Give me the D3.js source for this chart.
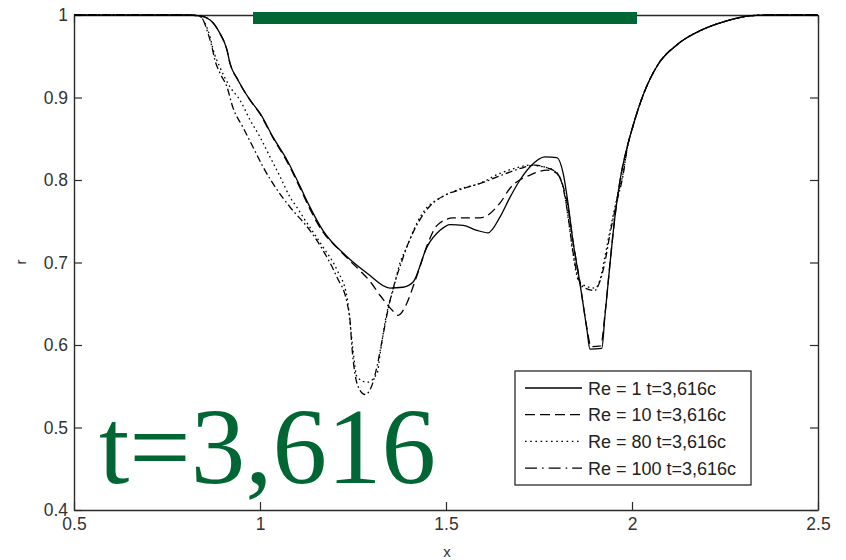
<!DOCTYPE html>
<html>
<head>
<meta charset="utf-8">
<script src="https://cdn.jsdelivr.net/npm/d3@7"></script>
<style>
  html, body { margin: 0; padding: 0; background: #fff; }
  svg { display: block; }
</style>
</head>
<body>
<svg id="chart" width="846" height="560"></svg>
<script>
// ---------- data ----------
const xTicks = [0.5, 1, 1.5, 2, 2.5];
const yTicks = [0.4, 0.5, 0.6, 0.7, 0.8, 0.9, 1];
const xTickLabels = ["0.5", "1", "1.5", "2", "2.5"];
const yTickLabels = ["0.4", "0.5", "0.6", "0.7", "0.8", "0.9", "1"];
const seriesNames = ["Re = 1 t=3,616c", "Re = 10 t=3,616c", "Re = 80 t=3,616c", "Re = 100 t=3,616c"];

const re1 = [
  [0.5,1],[0.80,1],[0.839,0.999],[0.866,0.994],[0.892,0.978],[0.911,0.958],[0.919,0.942],
  [0.941,0.921],[0.973,0.897],[1.0,0.881],[1.035,0.852],[1.073,0.824],[1.108,0.792],
  [1.129,0.772],[1.169,0.739],[1.234,0.707],[1.288,0.687],[1.349,0.669],[1.384,0.670],
  [1.411,0.676],[1.449,0.719],[1.484,0.739],[1.511,0.746],[1.546,0.745],[1.583,0.739],
  [1.613,0.736],[1.645,0.755],[1.672,0.779],[1.699,0.800],[1.726,0.816],[1.766,0.828],
  [1.798,0.827],[1.815,0.808],[1.828,0.772],[1.841,0.727],[1.860,0.675],[1.879,0.618],
  [1.887,0.595],[1.919,0.596],[1.927,0.634],[1.941,0.699],[1.954,0.755],[1.968,0.800],
  [1.987,0.840],[2.003,0.866],[2.030,0.903],[2.070,0.940],[2.121,0.964],[2.183,0.981],
  [2.255,0.993],[2.317,0.999],[2.363,1.0],[2.5,1]
];
const re10 = [
  [0.5,1],[0.80,1],[0.839,0.999],[0.866,0.994],[0.892,0.978],[0.911,0.958],[0.919,0.942],
  [0.941,0.921],[0.973,0.897],[1.0,0.880],[1.035,0.851],[1.073,0.822],[1.108,0.790],
  [1.134,0.765],[1.169,0.737],[1.207,0.718],[1.242,0.702],[1.269,0.690],[1.296,0.677],
  [1.323,0.660],[1.358,0.641],[1.371,0.636],[1.395,0.651],[1.411,0.670],[1.430,0.695],
  [1.452,0.724],[1.476,0.745],[1.519,0.754],[1.591,0.754],[1.645,0.772],[1.672,0.790],
  [1.726,0.806],[1.772,0.812],[1.798,0.808],[1.815,0.792],[1.828,0.767],[1.841,0.727],
  [1.860,0.676],[1.879,0.620],[1.890,0.598],[1.916,0.599],[1.927,0.636],[1.941,0.700],
  [1.954,0.755],[1.968,0.800],[1.987,0.840],[2.003,0.866],[2.030,0.903],[2.070,0.940],
  [2.121,0.964],[2.183,0.981],[2.255,0.993],[2.317,0.999],[2.363,1.0],[2.5,1]
];
const re80 = [
  [0.5,1],[0.80,1],[0.835,0.999],[0.852,0.990],[0.866,0.973],[0.874,0.958],[0.892,0.937],
  [0.919,0.913],[0.946,0.897],[0.973,0.873],[1.0,0.852],[1.027,0.828],[1.054,0.804],
  [1.081,0.779],[1.099,0.767],[1.116,0.755],[1.169,0.719],[1.207,0.691],[1.234,0.658],
  [1.242,0.627],[1.250,0.594],[1.261,0.561],[1.288,0.555],[1.315,0.566],[1.323,0.590],
  [1.341,0.639],[1.358,0.667],[1.376,0.699],[1.395,0.719],[1.422,0.748],[1.449,0.767],
  [1.476,0.776],[1.530,0.788],[1.591,0.796],[1.645,0.808],[1.691,0.815],[1.726,0.818],
  [1.761,0.816],[1.788,0.812],[1.815,0.792],[1.828,0.755],[1.841,0.712],[1.855,0.679],
  [1.868,0.673],[1.901,0.669],[1.914,0.679],[1.927,0.707],[1.941,0.739],[1.960,0.779],
  [1.976,0.808],[1.987,0.838],[2.003,0.866],[2.030,0.903],[2.070,0.940],[2.121,0.964],
  [2.183,0.981],[2.255,0.993],[2.317,0.999],[2.363,1.0],[2.5,1]
];
const re100 = [
  [0.5,1],[0.80,1],[0.835,0.999],[0.847,0.994],[0.860,0.978],[0.871,0.961],[0.879,0.945],
  [0.892,0.930],[0.911,0.913],[0.927,0.888],[0.954,0.864],[0.981,0.840],[1.008,0.816],
  [1.046,0.788],[1.081,0.767],[1.134,0.739],[1.169,0.715],[1.207,0.682],[1.234,0.651],
  [1.242,0.630],[1.247,0.598],[1.255,0.566],[1.269,0.545],[1.282,0.540],[1.300,0.550],
  [1.315,0.575],[1.330,0.610],[1.345,0.645],[1.360,0.672],[1.380,0.700],[1.400,0.725],
  [1.430,0.752],[1.460,0.770],[1.500,0.782],[1.550,0.790],[1.600,0.797],[1.650,0.806],
  [1.700,0.814],[1.740,0.818],[1.770,0.815],[1.800,0.808],[1.815,0.790],[1.828,0.757],
  [1.841,0.714],[1.855,0.682],[1.870,0.670],[1.900,0.666],[1.912,0.675],[1.927,0.700],
  [1.941,0.735],[1.960,0.775],[1.976,0.806],[1.987,0.838],[2.003,0.866],[2.030,0.903],
  [2.070,0.940],[2.121,0.964],[2.183,0.981],[2.255,0.993],[2.317,0.999],[2.363,1.0],[2.5,1]
];
const series = [re1, re10, re80, re100];
const dashes = [null, "9,5", "1.6,3.2", "7,3,1.6,3"];
const legendDashes = [null, "10,5", "1.6,3.6", "12,5,1.6,5"];

// ---------- layout ----------
const svg = d3.select("#chart");
const L = 74, R = 818, T = 15, B = 510;
const x = d3.scaleLinear().domain([0.5, 2.5]).range([L, R]);
const y = d3.scaleLinear().domain([0.4, 1]).range([B, T]);
const axisColor = "#2a2a2a";
const textColor = "#333";
const font = "'Liberation Sans', Arial, sans-serif";

svg.append("defs").append("clipPath").attr("id", "plotclip")
  .append("rect").attr("x", L).attr("y", T - 1).attr("width", R - L).attr("height", B - T + 2);

// axes
function styleAxis(g) {
  g.selectAll("path").attr("stroke", axisColor).attr("stroke-width", 1.4);
  g.selectAll("line").attr("stroke", axisColor).attr("stroke-width", 1.2);
  g.selectAll("text").attr("fill", textColor).attr("font-family", font).attr("font-size", 17.5);
}
const xAxis = d3.axisBottom(x).tickValues(xTicks).tickSizeInner(-8).tickSizeOuter(0)
  .tickPadding(8).tickFormat((d, i) => xTickLabels[i]);
svg.append("g").attr("transform", `translate(0,${B})`).call(xAxis).call(styleAxis);
const yAxis = d3.axisLeft(y).tickValues(yTicks).tickSizeInner(-8).tickSizeOuter(0)
  .tickPadding(6).tickFormat((d, i) => yTickLabels[i]);
svg.append("g").attr("transform", `translate(${L},0)`).call(yAxis).call(styleAxis);
const xTop = d3.axisTop(x).tickValues(xTicks).tickSizeInner(-8).tickSizeOuter(0).tickFormat("");
svg.append("g").attr("transform", `translate(0,${T})`).call(xTop).call(styleAxis);
const yRight = d3.axisRight(y).tickValues(yTicks).tickSizeInner(-8).tickSizeOuter(0).tickFormat("");
svg.append("g").attr("transform", `translate(${R},0)`).call(yRight).call(styleAxis);

// axis labels
svg.append("text").attr("x", (L + R) / 2 + 1).attr("y", 557).attr("text-anchor", "middle")
  .attr("font-family", font).attr("font-size", 15).attr("fill", textColor).text("x");
svg.append("text").attr("transform", "translate(26,262) rotate(-90)").attr("text-anchor", "middle")
  .attr("font-family", font).attr("font-size", 15).attr("fill", textColor).text("r");

// lines
const line = d3.line().x(d => x(d[0])).y(d => y(d[1])).curve(d3.curveMonotoneX);
const lg = svg.append("g").attr("clip-path", "url(#plotclip)");
series.forEach((s, i) => {
  lg.append("path").datum(s).attr("d", line)
    .attr("fill", "none").attr("stroke", "#000").attr("stroke-width", 1.3)
    .attr("stroke-dasharray", dashes[i]);
});

// legend
const leg = svg.append("g");
leg.append("rect").attr("x", 515).attr("y", 371).attr("width", 236).attr("height", 114)
  .attr("fill", "#fff").attr("stroke", axisColor).attr("stroke-width", 1.3);
seriesNames.forEach((name, i) => {
  const yy = 388 + i * 26.7;
  leg.append("line").attr("x1", 525).attr("x2", 582).attr("y1", yy).attr("y2", yy)
    .attr("stroke", "#000").attr("stroke-width", 1.3).attr("stroke-dasharray", legendDashes[i]);
  leg.append("text").attr("x", 588).attr("y", yy + 6.5)
    .attr("font-family", font).attr("font-size", 18).attr("fill", "#222").text(name);
});

// green annotations
svg.append("rect").attr("x", 253).attr("y", 12).attr("width", 384).attr("height", 12).attr("fill", "#006633");
svg.append("text").attr("x", 99).attr("y", 483)
  .attr("font-family", "'Liberation Serif', 'Times New Roman', serif").attr("font-size", 109)
  .attr("fill", "#006633").text("t=3,616");
</script>
</body>
</html>
